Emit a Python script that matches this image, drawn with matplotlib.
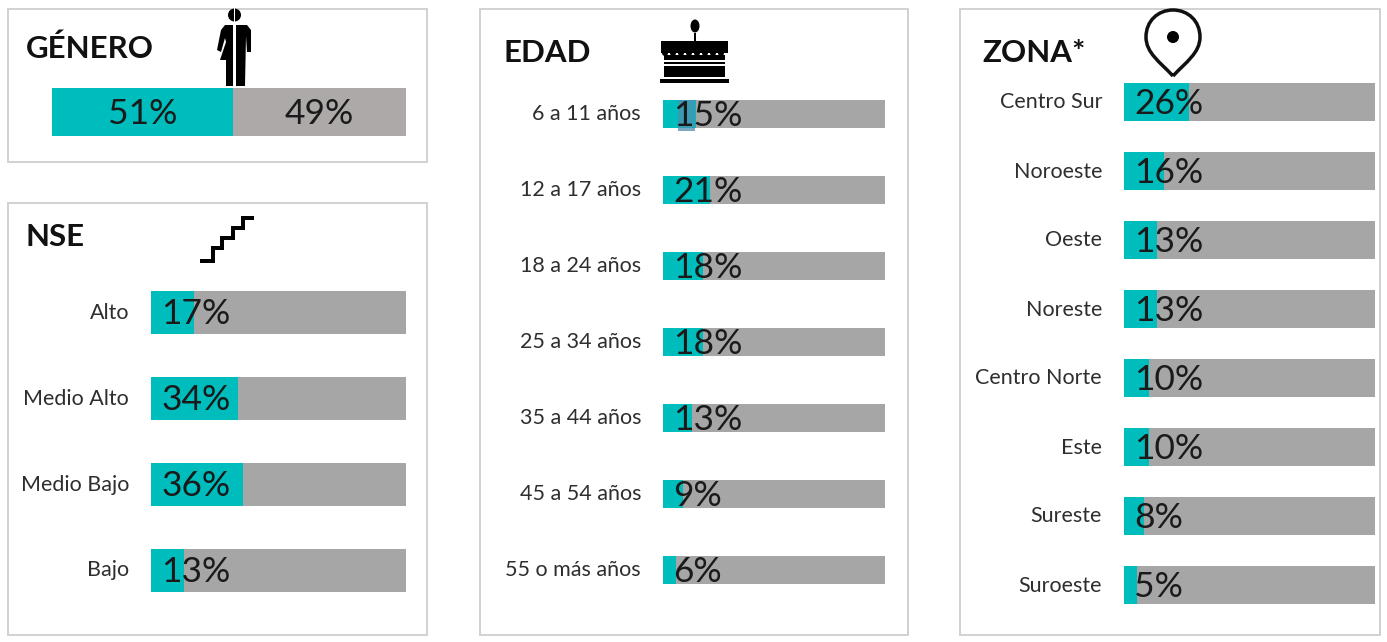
import matplotlib
matplotlib.use("Agg")
import matplotlib.pyplot as plt
from matplotlib.patches import Rectangle, Circle, Ellipse, Polygon, PathPatch
from matplotlib.path import Path
from matplotlib.transforms import ScaledTranslation

# ---- data ----
genero_values = [51, 49]
genero_labels = ["51%", "49%"]
nse_categories = ["Alto", "Medio Alto", "Medio Bajo", "Bajo"]
nse_values = [17, 34, 36, 13]
edad_categories = ["6 a 11 años", "12 a 17 años", "18 a 24 años", "25 a 34 años",
                   "35 a 44 años", "45 a 54 años", "55 o más años"]
edad_values = [15, 21, 18, 18, 13, 9, 6]
zona_categories = ["Centro Sur", "Noroeste", "Oeste", "Noreste",
                   "Centro Norte", "Este", "Sureste", "Suroeste"]
zona_values = [26, 16, 13, 13, 10, 10, 8, 5]

W, H = 1387, 642
TEAL, GREY, GREY2, TXT = "#00BDBD", "#A6A6A6", "#AEA9A9", "#1a1a1a"
FONT = ["Lato", "DejaVu Sans"]
plt.rcParams["font.family"] = FONT

fig = plt.figure(figsize=(W / 100, H / 100), dpi=100, facecolor="white")
px = 0.72


def axes_px(x0, x1, y0, y1, **kw):
    return fig.add_axes([x0 / W, 1 - y1 / H, (x1 - x0) / W, (y1 - y0) / H], **kw)


# overlay in pixel coordinates for frames, titles, icons
ov = axes_px(0, W, 0, H)
ov.set_xlim(0, W)
ov.set_ylim(H, 0)
ov.axis("off")

for (x0, y0, x1, y1) in [(8, 9, 427, 162), (8, 203, 427, 635), (480, 9, 908, 635), (960, 9, 1380, 635)]:
    ov.add_patch(Rectangle((x0, y0), x1 - x0, y1 - y0, fc="none", ec="#D2D2D2", lw=2 * px))

for s, x, y in [("GÉNERO", 26, 49), ("NSE", 26, 237), ("EDAD", 504, 53), ("ZONA*", 982, 53)]:
    ov.text(x, y, s, fontsize=22.5, fontweight="bold", color="#111111", ha="left", va="center")


def bar_panel(x0, x1, c0, c1, bar_h, cats, vals, label_fs=15.5, val_fs=25.5):
    n = len(cats)
    sp = (c1 - c0) / (n - 1)
    ax = axes_px(x0, x1, c0 - sp / 2, c1 + sp / 2)
    ax.patch.set_alpha(0)
    ypos = list(range(n))
    ax.barh(ypos, [100] * n, height=bar_h / sp, color=GREY, lw=0)
    ax.barh(ypos, vals, height=bar_h / sp, color=TEAL, lw=0)
    ax.set_xlim(0, 100)
    ax.set_ylim(n - 0.5, -0.5)
    ax.set_xticks([])
    ax.set_yticks(ypos)
    ax.set_yticklabels(cats, fontsize=label_fs, color="#2e2e2e")
    ax.tick_params(axis="y", length=0, pad=22 * px)
    shift = ScaledTranslation(0, 1.5 / 100, fig.dpi_scale_trans)
    for lab in ax.get_yticklabels():
        lab.set_transform(lab.get_transform() + shift)
    for s in ax.spines.values():
        s.set_visible(False)
    offset = 10.5 / (x1 - x0) * 100
    for y, v in zip(ypos, vals):
        ax.text(offset, y + 2 / sp, f"{v}%", fontsize=val_fs, color=TXT, ha="left", va="center", zorder=4)
    return ax


# Género stacked bar
gax = axes_px(52, 406, 88, 136)
gax.barh([0], [genero_values[0]], height=1, color=TEAL, lw=0)
gax.barh([0], [genero_values[1]], left=[genero_values[0]], height=1, color=GREY2, lw=0)
gax.set_xlim(0, sum(genero_values))
gax.set_ylim(0.5, -0.5)
gax.axis("off")
gax.text(genero_values[0] / 2 + 0.1, 0.05, genero_labels[0], fontsize=25.5, color=TXT, ha="center", va="center")
gax.text(genero_values[0] + genero_values[1] / 2 - 0.1, 0.05, genero_labels[1], fontsize=25.5, color=TXT, ha="center", va="center")

bar_panel(151, 406, 312, 570, 43, nse_categories, nse_values)
edad_ax = bar_panel(663, 885, 114, 570, 28, edad_categories, edad_values)
bar_panel(1124, 1375, 102, 585, 38, zona_categories, zona_values)

# small bluish selection artefact on the first Edad bar, under its label
edad_ax.add_patch(Rectangle((6.8, -0.184), 7.6, 0.41, fc="#4F8FB0", ec="none", alpha=0.75, zorder=2, clip_on=False))

# overlay for icons above bars
ic = axes_px(0, W, 0, H)
ic.set_xlim(0, W)
ic.set_ylim(H, 0)
ic.axis("off")
ic.patch.set_alpha(0)
ic.set_zorder(5)

# person icon
ic.add_patch(Circle((234.5, 15), 6.5, fc="black", ec="none"))
ic.add_patch(Rectangle((233.7, 7), 1.6, 16, fc="white", ec="none"))
ic.add_patch(Polygon([(233, 25), (225, 25), (221, 30), (217, 50), (221, 52), (225, 38),
                      (226, 42), (220, 60), (226, 60), (226, 86), (233, 86)], fc="black", ec="none"))
ic.add_patch(Polygon([(236, 25), (247, 25), (251, 30), (251, 52), (247, 52), (246, 36),
                      (245, 86), (236, 86)], fc="black", ec="none"))

# stairs icon
ic.plot([200, 213, 213, 222, 222, 233, 233, 243, 243, 254],
        [261, 261, 248, 248, 238, 238, 228, 228, 218, 218],
        color="black", lw=4 * px, solid_joinstyle="miter", solid_capstyle="butt")

# cake icon
for (x, y, w, h) in [(661, 41, 67, 12), (664, 55, 61, 5), (664, 62, 61, 2),
                     (664, 66, 61, 11), (660, 79, 69, 4), (694, 33, 2, 9)]:
    ic.add_patch(Rectangle((x, y), w, h, fc="black", ec="none"))
for cx in range(665, 728, 8):
    ic.add_patch(Circle((cx, 53), 3, fc="black", ec="none"))
ic.add_patch(Ellipse((695, 26), 9, 13, fc="black", ec="none"))

# map pin icon
verts = [(1173, 76), (1160, 62), (1146, 53), (1146, 37), (1146, 21), (1158, 10), (1173, 10),
         (1188, 10), (1200, 21), (1200, 37), (1200, 53), (1186, 62), (1173, 76)]
codes = [Path.MOVETO] + [Path.CURVE4] * 12
ic.add_patch(PathPatch(Path(verts, codes), fc="white", ec="#111111", lw=3.5 * px))
ic.add_patch(Circle((1173, 37), 6, fc="black", ec="none"))

fig.savefig("out.png", dpi=100, facecolor="white")
